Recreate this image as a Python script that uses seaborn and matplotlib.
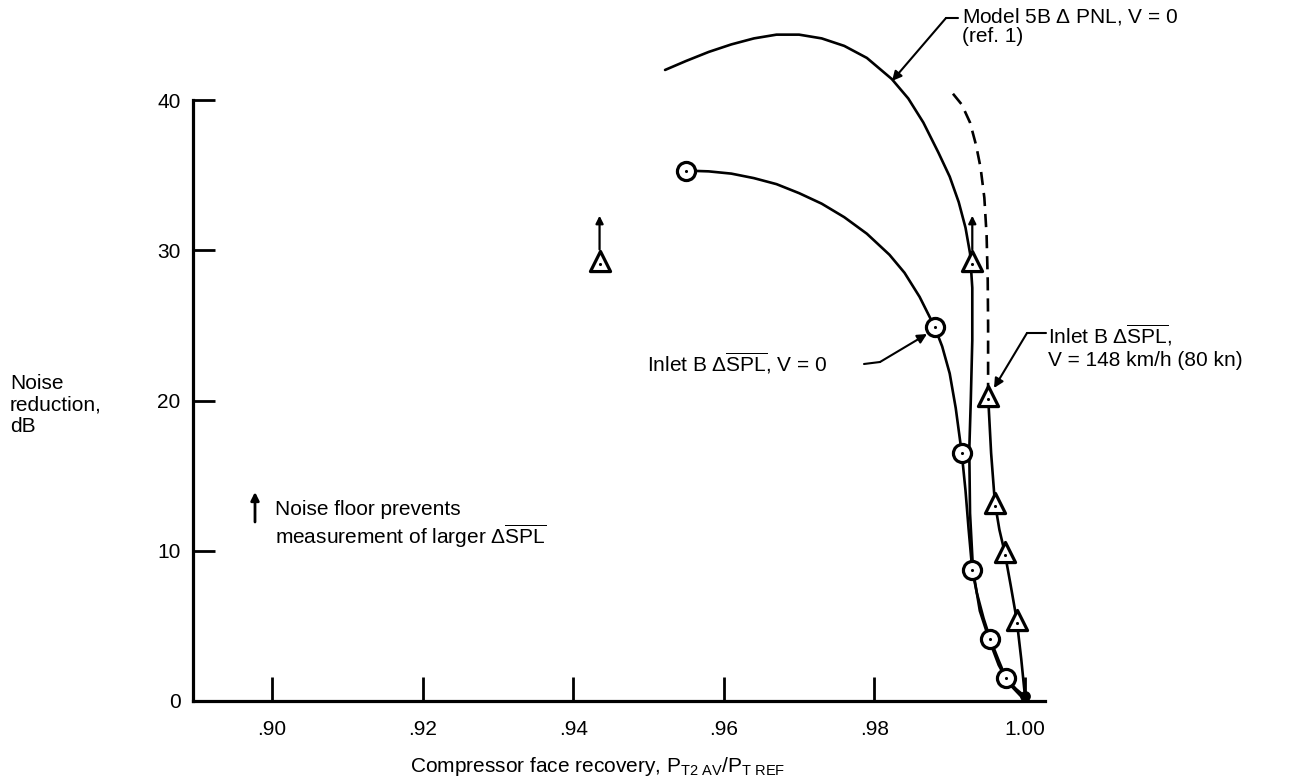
import matplotlib
matplotlib.use("Agg")
import matplotlib.pyplot as plt
import seaborn as sns

# ---------------- data ----------------
# Model 5B delta PNL, V = 0 (ref. 1) - faired curve, no symbols
model_x = [0.9522, 0.9550, 0.9580, 0.9610, 0.9640, 0.9670, 0.9700, 0.9730, 0.9760,
           0.9790, 0.9823, 0.9845, 0.9865, 0.9885, 0.9900, 0.9912, 0.9921, 0.9927,
           0.9930, 0.9930, 0.9928, 0.9926, 0.9927, 0.9931, 0.9940, 0.9953, 0.9965,
           0.9978, 0.9995]
model_y = [42.0, 42.6, 43.2, 43.7, 44.1, 44.35, 44.35, 44.1, 43.6,
           42.8, 41.4, 40.1, 38.5, 36.5, 34.9, 33.2, 31.5, 29.8,
           27.5, 24.0, 20.0, 16.7, 12.5, 8.7, 6.0, 4.0, 2.4,
           1.2, 0.3]

# Inlet B delta SPL, V = 0 - faired curve and measured points (circles)
v0_curve_x = [0.9550, 0.9580, 0.9610, 0.9640, 0.9670, 0.9700, 0.9730, 0.9760, 0.9790,
              0.9820, 0.9840, 0.9860, 0.9880, 0.9890, 0.9900, 0.9908, 0.9916, 0.9921,
              0.9925, 0.9930, 0.9936, 0.9945, 0.9954, 0.9965, 0.9975, 0.9988, 1.0000]
v0_curve_y = [35.3, 35.25, 35.1, 34.8, 34.4, 33.8, 33.1, 32.2, 31.1,
              29.7, 28.5, 26.9, 24.9, 23.6, 21.8, 19.5, 16.5, 14.0,
              11.5, 8.7, 7.2, 5.5, 4.1, 2.7, 1.5, 0.8, 0.3]
v0_pts_x = [0.9550, 0.9880, 0.9916, 0.9930, 0.9954, 0.9975]
v0_pts_y = [35.3, 24.9, 16.5, 8.7, 4.1, 1.5]

# Inlet B delta SPL, V = 148 km/h - measured points (triangles)
v148_pts_x = [0.9951, 0.9960, 0.9973, 0.9989]
v148_pts_y = [20.3, 13.2, 9.9, 5.4]
v148_curve_x = [0.9951, 0.9955, 0.9960, 0.9966, 0.9973, 0.9981, 0.9989, 0.9995, 1.0000]
v148_curve_y = [20.3, 16.5, 13.2, 11.4, 9.9, 7.7, 5.4, 2.8, 0.3]
# dashed extrapolation above the highest measured point
v148_dash_x = [0.9951, 0.9951, 0.99505, 0.9949, 0.9946, 0.9941, 0.9935, 0.9927, 0.9916,
               0.9903]
v148_dash_y = [20.3, 25.0, 28.0, 31.0, 33.5, 35.5, 37.0, 38.5, 39.7, 40.5]
# points limited by the noise floor (arrows)
floor_x = [0.9435, 0.9930]
floor_y = [29.3, 29.3]

# common end point
end_x = [1.0000]
end_y = [0.3]

x_ticks = [0.90, 0.92, 0.94, 0.96, 0.98, 1.00]
x_ticklabels = [".90", ".92", ".94", ".96", ".98", "1.00"]
y_ticks = [0, 10, 20, 30, 40]
y_ticklabels = ["0", "10", "20", "30", "40"]

# ---------------- style ----------------
sns.set_theme(style="white")
plt.rcParams["font.family"] = ["Liberation Sans", "DejaVu Sans"]
plt.rcParams["mathtext.fontset"] = "custom"
plt.rcParams["mathtext.rm"] = "Liberation Sans"
plt.rcParams["mathtext.it"] = "Liberation Sans"
plt.rcParams["mathtext.bf"] = "Liberation Sans:bold"

W, H = 1294, 781
fig = plt.figure(figsize=(W / 100, H / 100), dpi=100)
fig.patch.set_facecolor("white")

# axes geometry in pixels
AX_L, AX_R, AX_B, AX_T = 193, 1045, 701, 0
ax = fig.add_axes([AX_L / W, (H - AX_B) / H, (AX_R - AX_L) / W, (AX_B - AX_T) / H])
ax.set_facecolor("white")

X0 = 0.9 - (272 - AX_L) / 7530.0
X1 = 0.9 + (AX_R - 272) / 7530.0
PPY = 15.025
ax.set_xlim(X0, X1)
ax.set_ylim(0, (AX_B - AX_T) / PPY)

K = "black"
LW = 1.9

sns.lineplot(x=model_x, y=model_y, sort=False, estimator=None, color=K, lw=LW, ax=ax)
sns.lineplot(x=v0_curve_x, y=v0_curve_y, sort=False, estimator=None, color=K, lw=LW, ax=ax)
sns.lineplot(x=v148_curve_x, y=v148_curve_y, sort=False, estimator=None, color=K, lw=LW, ax=ax)
sns.lineplot(x=v148_dash_x, y=v148_dash_y, sort=False, estimator=None, color=K, lw=LW,
             ax=ax)
ax.lines[-1].set_dashes([5.0, 3.0])
for ln in ax.lines:
    ln.set_solid_joinstyle("round")
    ln.set_clip_on(False)

# symbols
sns.scatterplot(x=v0_pts_x, y=v0_pts_y, marker="o", s=170, facecolor="white",
                edgecolor=K, linewidth=2.3, zorder=4, ax=ax, clip_on=False)
sns.scatterplot(x=v0_pts_x, y=v0_pts_y, marker="o", s=5, color=K, linewidth=0,
                zorder=5, ax=ax)
tri_x = v148_pts_x + floor_x
tri_y = v148_pts_y + floor_y
sns.scatterplot(x=tri_x, y=tri_y, marker="^", s=210, facecolor="white",
                edgecolor=K, linewidth=2.3, zorder=4, ax=ax)
sns.scatterplot(x=tri_x, y=[v - 0.2 for v in tri_y], marker="o", s=5, color=K,
                linewidth=0, zorder=5, ax=ax)
sns.scatterplot(x=end_x, y=end_y, marker="o", s=60, color=K, linewidth=0,
                zorder=6, ax=ax, clip_on=False)

# noise floor arrows
for fx, fy in zip(floor_x, floor_y):
    ax.annotate("", xy=(fx, fy + 3.0), xytext=(fx, fy + 0.75),
                arrowprops=dict(arrowstyle="-|>", lw=1.6, color=K,
                                mutation_scale=11, shrinkA=0, shrinkB=0),
                zorder=3)

# ---------------- axes styling ----------------
for s in ["top", "right"]:
    ax.spines[s].set_visible(False)
for s in ["left", "bottom"]:
    ax.spines[s].set_linewidth(2.3)
    ax.spines[s].set_color(K)
ax.spines["left"].set_bounds(0, 40)
ax.spines["bottom"].set_bounds(X0, X1)

ax.set_xticks(x_ticks)
ax.set_xticklabels(x_ticklabels)
ax.set_yticks(y_ticks)
ax.set_yticklabels(y_ticklabels)
ax.tick_params(axis="x", direction="in", length=17, width=2.0, pad=14,
               labelsize=15, colors=K, bottom=True)
ax.tick_params(axis="y", direction="in", length=16, width=2.0, pad=9,
               labelsize=15, colors=K, left=True)
ax.grid(False)


def px(xp, yp):
    """figure pixel -> data coordinates"""
    return (0.9 + (xp - 272) / 7530.0, (AX_B - yp) / PPY)


FS = 15
# axis titles
fig.text(410 / W, 1 - 766 / H,
         r"Compressor face recovery, P$_{\mathrm{T2\ AV}}$/P$_{\mathrm{T\ REF}}$",
         fontsize=FS, ha="left", va="center", color=K)
fig.text(10 / W, 1 - 405 / H, "Noise\nreduction,\ndB", fontsize=FS, ha="left",
         va="center", color=K, linespacing=1.15)

# Model 5B label
ax.text(*px(962, 26), r"Model 5B $\Delta$ PNL, V = 0" + "\n(ref. 1)", fontsize=FS,
        ha="left", va="center", color=K, linespacing=1.05)
ax.plot(*zip(px(958, 18), px(946, 18)), color=K, lw=1.5, clip_on=False)
ax.annotate("", xy=px(892, 81), xytext=px(946, 18),
            arrowprops=dict(arrowstyle="-|>", lw=1.5, color=K, mutation_scale=14,
                            shrinkA=0, shrinkB=0), annotation_clip=False)

# Inlet B, V = 148 label
ax.text(*px(1048, 346), r"Inlet B $\Delta\overline{\mathrm{SPL}}$," + "\nV = 148 km/h (80 kn)",
        fontsize=FS, ha="left", va="center", color=K, linespacing=1.2)
ax.plot(*zip(px(1046, 333), px(1027, 333)), color=K, lw=1.5, clip_on=False)
ax.annotate("", xy=px(994, 388), xytext=px(1027, 333),
            arrowprops=dict(arrowstyle="-|>", lw=1.5, color=K, mutation_scale=14,
                            shrinkA=0, shrinkB=0), annotation_clip=False)

# Inlet B, V = 0 label
ax.text(*px(647, 363), r"Inlet B $\Delta\overline{\mathrm{SPL}}$, V = 0", fontsize=FS,
        ha="left", va="center", color=K)
ax.plot(*zip(px(864, 364), px(880, 362)), color=K, lw=1.5)
ax.annotate("", xy=px(927, 334), xytext=px(880, 362),
            arrowprops=dict(arrowstyle="-|>", lw=1.5, color=K, mutation_scale=14,
                            shrinkA=0, shrinkB=0))

# noise floor note
ax.annotate("", xy=px(255, 492), xytext=px(255, 522),
            arrowprops=dict(arrowstyle="-|>", lw=2.0, color=K, mutation_scale=12,
                            shrinkA=0, shrinkB=0))
ax.text(*px(275, 525), "Noise floor prevents\n" + r"measurement of larger $\Delta\overline{\mathrm{SPL}}$",
        fontsize=FS, ha="left", va="center", color=K, linespacing=1.2)

fig.savefig("out.png", dpi=100, facecolor="white")
